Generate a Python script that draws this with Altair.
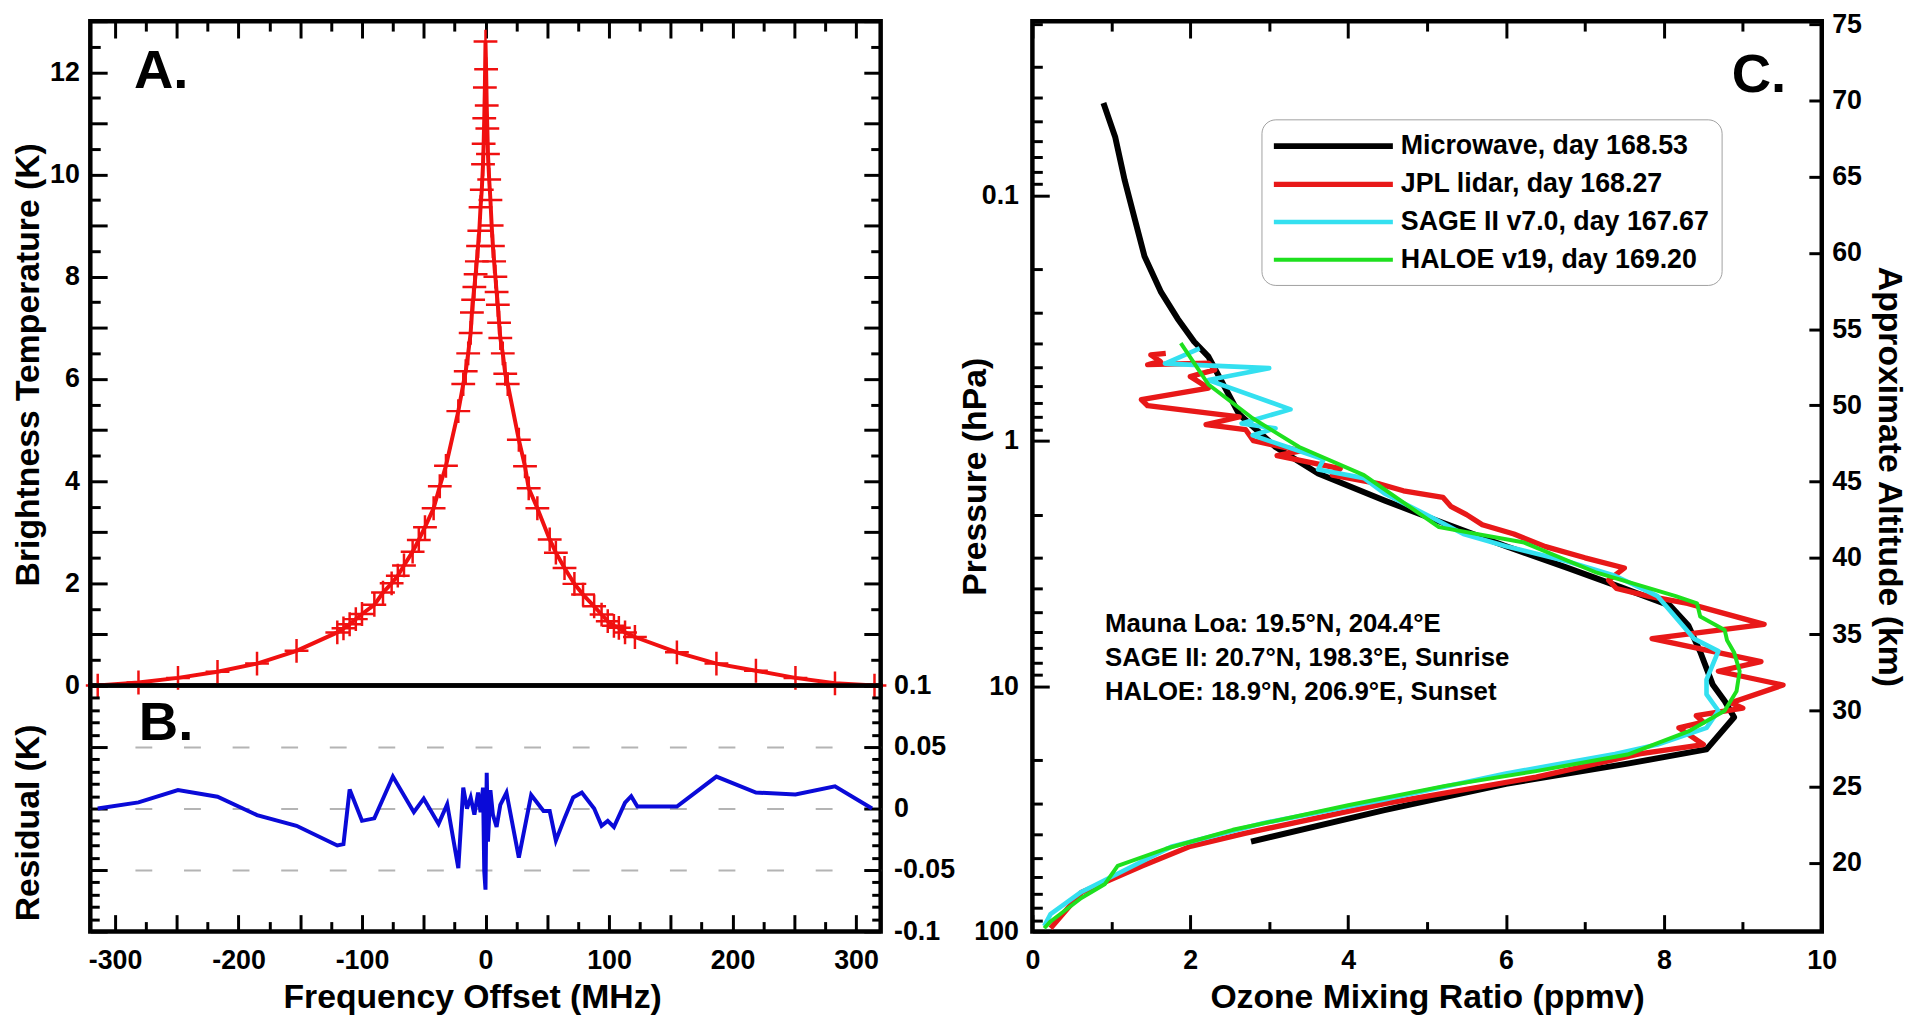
import altair as alt
import pandas as pd

FONT = "Liberation Sans, Arial, Helvetica, sans-serif"

# ---------------- Panel A: brightness temperature spectrum ----------------
freq_a = [-314, -281, -249, -217, -185, -153, -120, -115, -110, -105, -100,
          -90, -83, -76, -71, -66, -59, -54, -49, -42, -37, -32,
          -22, -18, -16, -14, -12, -11, -10, -9, -8, -7, -6, -5, -4, -3, -2, -1.5, -1, -0.5, 0,
          0.5, 1, 1.5, 2, 3, 4, 5, 6, 7, 8, 9, 10, 11, 12, 14, 16, 18,
          27, 32, 35, 42, 52, 57, 64, 72, 79, 88, 94, 99, 104, 108, 113, 121,
          155, 187, 219, 251, 283, 315]
tb_a = [0.0, 0.06, 0.15, 0.27, 0.43, 0.68, 1.04, 1.12, 1.2, 1.3, 1.4,
        1.58, 1.82, 2.0, 2.15, 2.35, 2.62, 2.85, 3.1, 3.47, 3.9, 4.3,
        5.37, 5.9, 6.15, 6.5, 6.9, 7.3, 7.55, 7.8, 8.05, 8.3, 8.6, 8.9, 9.36, 9.7, 10.2, 10.6, 11.1, 11.7, 12.6,
        12.06, 11.35, 10.9, 10.4, 9.9, 9.5, 9.0, 8.6, 8.3, 8.0, 7.7, 7.45, 7.1, 6.8, 6.5, 6.1, 5.9,
        4.81, 4.29, 3.86, 3.47, 2.86, 2.6, 2.3, 1.99, 1.78, 1.55, 1.39, 1.26, 1.17, 1.13, 1.04, 0.95,
        0.65, 0.43, 0.29, 0.15, 0.045, 0.0]

# ---------------- Panel B: residual ----------------
freq_b = [-314, -281, -249, -217, -185, -153, -120, -115, -110, -100, -90,
          -75, -58, -50, -38, -31, -22, -18, -15, -12, -9, -6, -4, -2, -1, 0,
          1, 2, 4, 6, 9, 12, 17,
          27, 37, 47, 52, 57, 64, 71, 78, 88, 94, 99, 104, 113, 118, 123,
          155, 187, 219, 251, 283, 313]
resid_b = [0.0, 0.005, 0.015, 0.0096, -0.0053, -0.014, -0.030, -0.029, 0.0155, -0.01, -0.008,
           0.026, -0.003, 0.008, -0.0125, 0.0035, -0.0485, 0.017, 0.0, 0.009, -0.005, 0.013, -0.003, 0.017, -0.051, -0.066,
           0.029, -0.027, 0.015, -0.005, -0.015, 0.003, 0.013,
           -0.04, 0.011, -0.002, -0.002, -0.026, -0.008, 0.009, 0.013, 0.0, -0.014, -0.01, -0.015, 0.0048, 0.01, 0.0016,
           0.0016, 0.026, 0.013, 0.0115, 0.018, 0.0]

# ---------------- Panel C: ozone profiles (ppmv, hPa) ----------------
mw_o3 = [0.90, 1.05, 1.17, 1.30, 1.42, 1.63, 1.84, 2.05, 2.23, 2.62, 3.08, 3.62, 4.46, 5.08,
         6.00, 6.77, 7.46, 8.08, 8.31, 8.46, 8.62, 8.77, 8.89, 8.54, 7.54, 6.00, 4.46, 2.77]
mw_p = [0.042, 0.058, 0.087, 0.126, 0.177, 0.248, 0.318, 0.395, 0.454, 0.78, 1.06, 1.36, 1.75, 2.09,
        2.69, 3.29, 3.96, 4.70, 5.66, 7.24, 9.88, 11.5, 13.4, 18.1, 20.7, 25.0, 32.0, 43.0]

lid_o3 = [1.69, 1.50, 1.62, 1.46, 2.23, 2.31, 2.00, 2.23, 1.38, 1.46, 2.62, 2.20, 2.70, 2.80, 3.40,
          3.10, 3.90, 3.80, 4.40, 4.70, 5.20, 5.30, 5.50, 5.70, 6.10, 6.50, 7.00, 7.50, 7.30, 7.40,
          7.80, 8.30, 9.27, 7.85, 9.23, 8.69, 9.51, 8.85, 9.00, 8.41, 8.50, 8.19, 8.50, 7.69, 6.38,
          4.46, 2.69, 2.00, 1.38, 0.62, 0.23]
lid_p = [0.44, 0.447, 0.475, 0.49, 0.483, 0.514, 0.547, 0.61, 0.68, 0.72, 0.80, 0.86, 0.90, 1.0, 1.1,
         1.15, 1.3, 1.38, 1.5, 1.6, 1.7, 1.85, 2.0, 2.2, 2.4, 2.7, 3.0, 3.3, 3.7, 4.0,
         4.3, 4.6, 5.6, 6.4, 7.95, 8.7, 9.9, 11.7, 12.3, 13.2, 14.0, 14.8, 17.3, 18.9, 23.5,
         30.1, 39.8, 45.0, 54.2, 69.3, 97.0]

sg_o3 = [2.12, 1.68, 3.00, 2.23, 3.27, 2.65, 3.08, 2.79, 3.69, 3.62, 4.20, 4.46, 5.08, 5.46, 6.00,
         6.77, 7.38, 7.92, 8.07, 8.38, 8.69, 8.54, 8.54, 8.69, 8.54, 7.92, 7.38, 6.00, 4.46, 2.92,
         1.77, 1.23, 0.62, 0.23, 0.15]
sg_p = [0.42, 0.485, 0.506, 0.566, 0.745, 0.85, 0.89, 0.95, 1.19, 1.31, 1.42, 1.64, 2.07, 2.4, 2.69,
        3.1, 3.55, 4.3, 4.9, 6.4, 7.2, 9.4, 10.8, 12.6, 14.8, 17.3, 18.9, 22.7, 29.0, 36.2,
        45.0, 55.0, 69.0, 85.0, 95.0]

hl_o3 = [1.88, 2.23, 2.79, 3.38, 4.20, 5.15, 6.23, 7.15, 8.15, 8.42, 8.46, 8.77, 8.80, 8.89, 8.96,
         8.92, 8.77, 8.31, 7.54, 6.38, 5.23, 4.00, 2.54, 1.69, 1.08, 0.92, 0.62, 0.23, 0.15]
hl_p = [0.40, 0.59, 0.81, 1.06, 1.38, 2.25, 2.6, 3.45, 4.3, 4.6, 5.2, 5.9, 6.5, 7.3, 8.7,
        10.5, 12.6, 15.3, 19.0, 22.2, 25.5, 30.6, 38.5, 46.0, 54.0, 64.0, 73.0, 91.0, 97.0]

series_names = ["Microwave, day 168.53", "JPL lidar, day 168.27",
                "SAGE II v7.0, day 167.67", "HALOE v19, day 169.20"]
series_colors = ["#000000", "#e81818", "#34e0f0", "#1ee01e"]
series_widths = [6, 4, 4, 4]

notes = ["Mauna Loa: 19.5°N, 204.4°E",
         "SAGE II: 20.7°N, 198.3°E, Sunrise",
         "HALOE: 18.9°N, 206.9°E, Sunset"]
notes_x = [0.92, 0.92, 0.92]
notes_p = [6.0, 8.3, 11.4]

# tick / label values
xa_ticks = list(range(-300, 301, 25))
xa_labels = list(range(-300, 301, 100))
ya_ticks = [i * 0.5 for i in range(0, 27)]
ya_labels = [0, 2, 4, 6, 8, 10, 12, 13]
yb_ticks = [round(-0.1 + 0.01 * i, 2) for i in range(21)]
yb_labels = [-0.1, -0.05, 0, 0.05, 0.1]
xc_ticks = list(range(0, 11))
xc_labels = [0, 2, 4, 6, 8, 10]
p_ticks = [round(k * 10 ** e, 6) for e in range(-2, 2) for k in range(1, 10)] + [100]
p_ticks = [v for v in p_ticks if v >= 0.0195]
p_labels = [0.1, 1, 10, 100]
alt_vals = list(range(20, 76, 5))

# ---------------- geometry ----------------
WA, HA, HB = 797, 670, 248
WC, HC = 796, 918
RED = "#f01010"
BLUE = "#0a0ad8"
PLUS = "M-1,0L1,0M0,-1L0,1"


def tick_axis(orient, offset, values, test=None, major=17, minor=10):
    size = major if test is None else {"condition": {"test": test, "value": major}, "value": minor}
    return alt.Axis(orient=orient, offset=offset, values=values, labels=False, domain=False,
                    grid=False, title=None, ticks=True, tickColor="black", tickWidth=3,
                    tickSize=size)


def label_axis(orient, values, title=None, pad=12, **kw):
    return alt.Axis(orient=orient, values=values, ticks=False, tickSize=0, domain=False,
                    grid=kw.pop("grid", False), labelPadding=pad, labelFlush=False,
                    labelOverlap=False, labelExpr="'' + datum.value", title=title, **kw)


# ---------------- Panel A ----------------
xa = alt.Scale(domain=[-320, 320], nice=False, zero=False)
ya = alt.Scale(domain=[0, 13], nice=False, zero=False)
dfa = pd.DataFrame({"f": freq_a, "t": tb_a})

a_line = alt.Chart(dfa).mark_line(color=RED, strokeWidth=4).encode(
    x=alt.X("f:Q", scale=xa, axis=tick_axis("bottom", -HA, xa_ticks, "datum.value % 50 === 0")),
    y=alt.Y("t:Q", scale=ya, axis=label_axis(
        "left", ya_labels, title="Brightness Temperature (K)", pad=11, titleX=-45, titleY=346,
        labelOpacity={"condition": {"test": "datum.value > 12.5", "value": 0}, "value": 1})),
)
a_pts = alt.Chart(dfa).mark_point(shape=PLUS, size=576, filled=False, color=RED,
                                  strokeWidth=2.5, opacity=1).encode(
    x=alt.X("f:Q", scale=xa, axis=None),
    y=alt.Y("t:Q", scale=ya, axis=tick_axis("right", -WA, ya_ticks, "datum.value % 1 === 0")),
)
a_r = alt.Chart(dfa).mark_line(strokeOpacity=0).encode(
    x=alt.X("f:Q", scale=xa, axis=None),
    y=alt.Y("t:Q", scale=ya, axis=tick_axis("left", -WA, ya_ticks, "datum.value % 1 === 0")),
)
a_txt = alt.Chart(pd.DataFrame({"f": [-284.7], "t": [11.69], "s": ["A."]})).mark_text(
    font=FONT, fontSize=55, fontWeight="bold", align="left", baseline="alphabetic", color="black"
).encode(x=alt.X("f:Q", scale=xa, axis=None), y=alt.Y("t:Q", scale=ya, axis=None), text="s:N")

panel_a = alt.layer(a_line, a_pts, a_r, a_txt).resolve_axis(
    x="independent", y="independent").properties(width=WA, height=HA)

# ---------------- Panel B ----------------
yb = alt.Scale(domain=[-0.1, 0.1], nice=False, zero=False)
dfb = pd.DataFrame({"f": freq_b, "r": resid_b})
b_test = "abs(round(datum.value * 100)) % 5 === 0"

b_line = alt.Chart(dfb).mark_line(color=BLUE, strokeWidth=4).encode(
    x=alt.X("f:Q", scale=xa, axis=label_axis("bottom", xa_labels, title="Frequency Offset (MHz)",
                                             pad=16, titleY=50, titleX=385)),
    y=alt.Y("r:Q", scale=yb, axis=alt.Axis(orient="left", labels=False, ticks=False, domain=False,
                                           grid=False, title="Residual (K)", titleX=-45,
                                           titleY=138)),
)
b_t1 = alt.Chart(dfb).mark_line(strokeOpacity=0).encode(
    x=alt.X("f:Q", scale=xa, axis=tick_axis("top", -HB, xa_ticks, "datum.value % 50 === 0")),
    y=alt.Y("r:Q", scale=yb, axis=tick_axis("right", -WA, yb_ticks, b_test, 17, 9)),
)
b_t2 = alt.Chart(dfb).mark_line(strokeOpacity=0).encode(
    x=alt.X("f:Q", scale=xa, axis=None),
    y=alt.Y("r:Q", scale=yb, axis=tick_axis("left", -WA, yb_ticks, b_test, 17, 9)),
)
b_t3 = alt.Chart(dfb).mark_line(strokeOpacity=0).encode(
    x=alt.X("f:Q", scale=xa, axis=None),
    y=alt.Y("r:Q", scale=yb, axis=label_axis(
        "right", yb_labels, pad=13, grid=True, gridColor="#b4b4b4", gridWidth=2,
        gridDash=[17, 32],
        gridOpacity={"condition": {"test": "abs(datum.value) > 0.09", "value": 0}, "value": 1})),
)
b_txt = alt.Chart(pd.DataFrame({"f": [-280.7], "r": [0.0558], "s": ["B."]})).mark_text(
    font=FONT, fontSize=55, fontWeight="bold", align="left", baseline="alphabetic", color="black"
).encode(x=alt.X("f:Q", scale=xa, axis=None), y=alt.Y("r:Q", scale=yb, axis=None), text="s:N")

panel_b = alt.layer(b_line, b_t1, b_t2, b_t3, b_txt).resolve_axis(
    x="independent", y="independent").properties(width=WA, height=HB)

# ---------------- Panel C ----------------
rows = []
for name, xs, ps in zip(series_names, [mw_o3, lid_o3, sg_o3, hl_o3], [mw_p, lid_p, sg_p, hl_p]):
    for i, (xv, pv) in enumerate(zip(xs, ps)):
        rows.append({"o3": xv, "p": pv, "src": name, "i": i})
dfc = pd.DataFrame(rows)

xc = alt.Scale(domain=[0, 10], nice=False, zero=False)
yc = alt.Scale(type="log", domain=[0.0195, 100], reverse=True, nice=False)
yalt = alt.Scale(domain=[15.5, 75.2], nice=False, zero=False)
p_test = "abs(log(datum.value) / LN10 - round(log(datum.value) / LN10)) < 0.000001"

c_lines = alt.Chart(dfc).mark_line(strokeJoin="round").encode(
    x=alt.X("o3:Q", scale=xc, axis=label_axis("bottom", xc_labels, title="Ozone Mixing Ratio (ppmv)",
                                              pad=16, titleY=50)),
    y=alt.Y("p:Q", scale=yc, axis=label_axis("left", p_labels, title="Pressure (hPa)", pad=14,
                                             titleX=-40)),
    color=alt.Color("src:N", scale=alt.Scale(domain=series_names, range=series_colors),
                    legend=alt.Legend(title=None, orient="none", legendX=1181, legendY=99,
                                      direction="vertical", symbolType="M-5,0L5,0", symbolSize=576,
                                      symbolOffset=45.5, symbolStrokeWidth=4.5,
                                      labelFont=FONT, labelFontSize=27,
                                      labelFontWeight="bold", labelColor="black", labelLimit=600,
                                      labelOffset=53, rowPadding=10.5, padding=12, fillColor="white",
                                      strokeColor="#a0a0a0", cornerRadius=14)),
    strokeWidth=alt.StrokeWidth("src:N", scale=alt.Scale(domain=series_names, range=series_widths),
                                legend=None),
    order="i:Q",
)
c_t1 = alt.Chart(dfc).mark_line(strokeOpacity=0).encode(
    x=alt.X("o3:Q", scale=xc, axis=tick_axis("top", -HC, xc_ticks, "datum.value % 2 === 0")),
    y=alt.Y("p:Q", scale=yc, axis=tick_axis("right", -WC, p_ticks, p_test)),
    detail="src:N",
)
c_t2 = alt.Chart(dfc).mark_line(strokeOpacity=0).encode(
    x=alt.X("o3:Q", scale=xc, axis=tick_axis("bottom", -HC, xc_ticks, "datum.value % 2 === 0")),
    y=alt.Y("p:Q", scale=yc, axis=None),
    detail="src:N",
)
dfalt = pd.DataFrame({"km": alt_vals})
xalt = alt.Scale(domain=[15.5, 75.2], nice=False, zero=False)
c_alt1 = alt.Chart(dfalt).mark_point(opacity=0).encode(
    x=alt.X("km:Q", scale=xalt, axis=None),
    y=alt.Y("km:Q", scale=yalt, axis=label_axis("right", alt_vals, title="Approximate Altitude (km)",
                                                pad=10, titleX=50)),
)
c_alt2 = alt.Chart(dfalt).mark_point(opacity=0).encode(
    x=alt.X("km:Q", scale=xalt, axis=None),
    y=alt.Y("km:Q", scale=yalt, axis=tick_axis("left", -WC, alt_vals, None, 13)),
)
c_txt = alt.Chart(pd.DataFrame({"o3": [9.55], "p": [0.0378], "s": ["C."]})).mark_text(
    font=FONT, fontSize=55, fontWeight="bold", align="right", baseline="alphabetic", color="black"
).encode(x=alt.X("o3:Q", scale=xc, axis=None), y=alt.Y("p:Q", scale=yc, axis=None), text="s:N")
c_notes = alt.Chart(pd.DataFrame({"o3": notes_x, "p": notes_p, "s": notes})).mark_text(
    font=FONT, fontSize=26, fontWeight="bold", align="left", baseline="alphabetic", color="black"
).encode(x=alt.X("o3:Q", scale=xc, axis=None), y=alt.Y("p:Q", scale=yc, axis=None), text="s:N")

panel_c = alt.layer(c_lines, c_t1, c_t2, c_alt1, c_alt2, c_txt, c_notes).resolve_scale(
    x="independent", y="independent").resolve_axis(x="independent", y="independent").properties(
    width=WC, height=HC)

PAD = {"left": 1, "top": -8, "right": 4, "bottom": 2}
left = alt.vconcat(panel_a, panel_b, spacing=0, bounds="flush")
chart = alt.hconcat(left, panel_c, spacing=-1).configure(padding=PAD).configure_view(
    stroke="black", strokeWidth=4.5
).configure_axis(
    labelFont=FONT, labelFontSize=27, labelFontWeight="bold", labelColor="black",
    titleFont=FONT, titleFontSize=34, titleFontWeight="bold", titleColor="black"
).properties(padding=PAD)

chart.save("out.html", embed_options={"renderer": "svg", "actions": False})
